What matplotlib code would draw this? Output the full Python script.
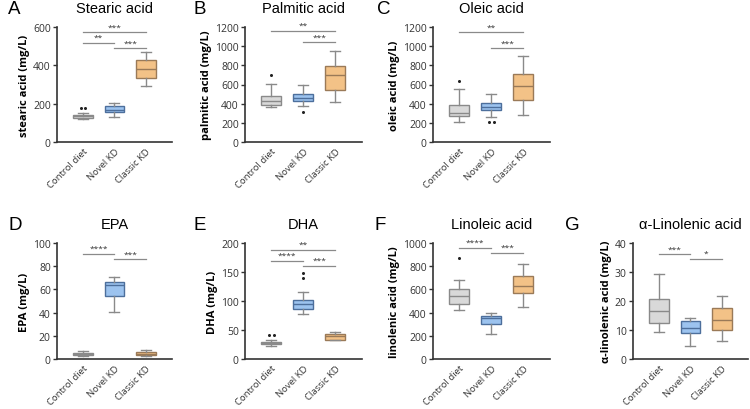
import matplotlib
matplotlib.use("Agg")
import matplotlib.pyplot as plt

plt.rcParams["font.family"] = ["Open Sans", "DejaVu Sans"]

groups = ["Control diet", "Novel KD", "Classic KD"]
fills = ["#d9d9d9", "#9cc3ef", "#f3c287"]
edges = ["#8a8a8a", "#4d6f9c", "#9a7a58"]

titles = ["Stearic acid", "Palmitic acid", "Oleic acid", "EPA", "DHA",
          "Linoleic acid", "α-Linolenic acid"]
letters = ["A", "B", "C", "D", "E", "F", "G"]
ylabels = ["stearic acid (mg/L)", "palmitic acid (mg/L)", "oleic acid (mg/L)",
           "EPA (mg/L)", "DHA (mg/L)", "linolenic acid (mg/L)",
           "α-linolenic acid (mg/L)"]
ylims = [600, 1200, 1200, 100, 200, 1000, 40]
ysteps = [200, 200, 200, 20, 50, 200, 10]

# whisker low, q1, median, q3, whisker high per group
stats = [
    [(118, 127, 134, 142, 150), (130, 157, 169, 188, 205), (292, 334, 381, 426, 470)],
    [(365, 383, 424, 476, 609), (379, 424, 459, 497, 591), (417, 546, 696, 793, 950)],
    [(209, 271, 303, 383, 553), (264, 337, 365, 403, 497), (278, 438, 581, 706, 901)],
    [(2.3, 3.5, 4.3, 5.2, 6.7), (40.9, 54.5, 64, 66, 70.7), (2.9, 3.8, 4.6, 5.8, 7.5)],
    [(22.9, 25.1, 26.9, 28.6, 32), (77.7, 86.9, 95.4, 101.7, 115.4), (32, 33.1, 38.9, 42.9, 47.4)],
    [(421, 473, 542, 605, 683), (216, 305, 352, 369, 398), (444, 573, 628, 715, 821)],
    [(9.4, 12.3, 16.6, 20.7, 29.4), (4.5, 9.0, 10.75, 13.2, 14.2), (6.2, 10.1, 13.4, 17.7, 21.7)],
]

# outliers: (group index, x offset, value)
outliers = [
    [(0, -0.07, 176), (0, 0.07, 176)],
    [(0, 0, 703), (1, 0, 313)],
    [(0, 0, 633), (1, -0.07, 209), (1, 0.07, 209)],
    [],
    [(0, -0.07, 41.7), (0, 0.07, 41.7), (1, 0, 148), (1, 0, 139)],
    [(0, 0, 873)],
    [],
]

# significance brackets: (from group, to group, height, label)
brackets = [
    [(0, 2, 574, "***"), (0, 1, 518, "**"), (1, 2, 490, "***")],
    [(0, 2, 1162, "**"), (1, 2, 1043, "***")],
    [(0, 2, 1148, "**"), (1, 2, 981, "***")],
    [(0, 1, 90.7, "****"), (1, 2, 86, "***")],
    [(0, 2, 188.6, "**"), (0, 1, 169.7, "****"), (1, 2, 161, "***")],
    [(0, 1, 960, "****"), (1, 2, 916, "***")],
    [(0, 1, 36.2, "***"), (1, 2, 34.6, "*")],
]

W, H = 750, 410
fig = plt.figure(figsize=(W / 100, H / 100), dpi=100)

# axes boxes in pixels: left, right, top, bottom
boxes_px = [
    (57, 172, 28, 143), (245, 362, 28, 143), (433, 550, 28, 143),
    (57, 172, 244, 360), (245, 362, 244, 360), (433, 550, 244, 360),
    (633, 748, 244, 360),
]
letter_px = [(8, 10), (193, 10), (377, 10), (8, 226), (193, 226), (375, 226), (565, 226)]

for i in range(7):
    l, r, t, b = boxes_px[i]
    ax = fig.add_axes([l / W, 1 - b / H, (r - l) / W, (b - t) / H])
    bxp_stats = []
    for j, (wl, q1, med, q3, wh) in enumerate(stats[i]):
        bxp_stats.append({"whislo": wl, "q1": q1, "med": med, "q3": q3,
                          "whishi": wh, "fliers": [], "label": groups[j]})
    art = ax.bxp(bxp_stats, positions=[1, 2, 3], widths=0.62, patch_artist=True,
                 showfliers=False)
    for j in range(3):
        art["boxes"][j].set_facecolor(fills[j])
        art["boxes"][j].set_edgecolor(edges[j])
        art["boxes"][j].set_linewidth(1.0)
        art["medians"][j].set_color(edges[j])
        art["medians"][j].set_linewidth(1.0)
        for k in (2 * j, 2 * j + 1):
            art["whiskers"][k].set_color("#8a8a8a")
            art["whiskers"][k].set_linewidth(1.0)
            art["caps"][k].set_color("#8a8a8a")
            art["caps"][k].set_linewidth(1.0)
    for g, dx, v in outliers[i]:
        ax.plot(g + 1 + dx, v, "o", color="#222222", ms=2.2, mew=0)
    for g0, g1, h, lab in brackets[i]:
        ax.plot([g0 + 1, g1 + 1], [h, h], color="#8a8a8a", lw=0.9, clip_on=False)
        ax.text((g0 + g1) / 2 + 1, h + ylims[i] * 0.015, lab, ha="center", va="bottom",
                fontsize=6, color="#333333")

    ax.set_xlim(0.18, 3.83)
    ax.set_ylim(0, ylims[i])
    ax.set_yticks(range(0, ylims[i] + 1, ysteps[i]))
    ax.set_xticks([1, 2, 3])
    ax.set_xticklabels(groups, rotation=45, ha="right", rotation_mode="anchor",
                       fontsize=6.8, color="#333333")
    ax.tick_params(axis="y", labelsize=7.5, labelcolor="#333333", length=3,
                   width=1.0, color="#333333", pad=1.5)
    ax.tick_params(axis="x", length=0, pad=3)
    for s in ("top", "right"):
        ax.spines[s].set_visible(False)
    for s in ("left", "bottom"):
        ax.spines[s].set_color("#333333")
        ax.spines[s].set_linewidth(1.2)
    ax.set_ylabel(ylabels[i], fontsize=8, fontweight="bold", labelpad=2)
    ax.set_title(titles[i], fontsize=10.5, family="Liberation Sans", pad=11)
    lx, ly = letter_px[i]
    fig.text(lx / W, 1 - ly / H, letters[i], fontsize=13.5, family="Liberation Sans",
             ha="left", va="center")

fig.savefig("out.png", dpi=100, facecolor="white")
